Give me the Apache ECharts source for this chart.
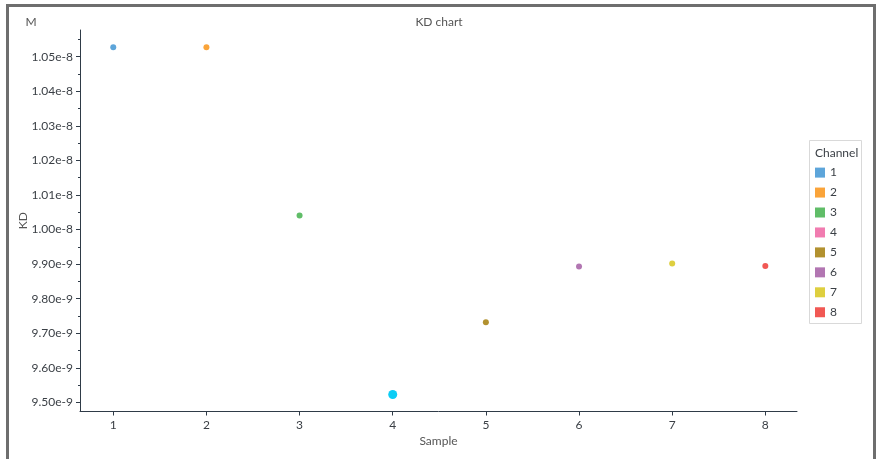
<!DOCTYPE html>
<html>
<head>
<meta charset="utf-8">
<script src="https://cdn.jsdelivr.net/npm/echarts@6/dist/echarts.min.js"></script>
<style>
  html, body { margin: 0; padding: 0; background: #fff; }
  #wrap { position: relative; width: 881px; height: 459px; overflow: hidden; }
  #chart { position: absolute; left: 0; top: 0; width: 881px; height: 459px; }
  #frame { position: absolute; left: 6px; top: 4px; width: 864px; height: 490px;
           border: 3px solid #6e6e6e; pointer-events: none; }
</style>
</head>
<body>
<div id="wrap">
  <div id="chart"></div>
  <div id="frame"></div>
</div>
<script>
// ---- data ----
const samples = [1, 2, 3, 4, 5, 6, 7, 8];
const channels = ['1', '2', '3', '4', '5', '6', '7', '8'];
const kdValues = [1.0527e-8, 1.0527e-8, 1.0041e-8, 9.523e-9, 9.732e-9, 9.893e-9, 9.902e-9, 9.895e-9];
const channelColors = ['#5DA5DA', '#FAA43A', '#60BD68', '#F17CB0', '#B2912F', '#B276B2', '#DECF3F', '#F15854'];
const yTickValues = [9.5e-9, 9.6e-9, 9.7e-9, 9.8e-9, 9.9e-9, 1.0e-8, 1.01e-8, 1.02e-8, 1.03e-8, 1.04e-8, 1.05e-8];
const yMinorTickValues = [9.55e-9, 9.65e-9, 9.75e-9, 9.85e-9, 9.95e-9, 1.005e-8, 1.015e-8, 1.025e-8, 1.035e-8, 1.045e-8, 1.055e-8];
const highlightedSample = 4;

const chart = echarts.init(document.getElementById('chart'), null, { renderer: 'canvas' });
const axisColor = '#2f3b48';
const textColor = '#3a3f45';
const font = 'Lato, "Open Sans", sans-serif';

const series = samples.map((s, i) => ({
  name: channels[i],
  type: 'scatter',
  xAxisIndex: 0,
  yAxisIndex: 0,
  symbolSize: 6,
  itemStyle: { color: channelColors[i], opacity: 1 },
  data: [s === highlightedSample
    ? { value: [s, kdValues[i]], symbolSize: 9, itemStyle: { color: '#0ccdf5', opacity: 1 } }
    : [s, kdValues[i]]]
}));

chart.setOption({
  animation: false,
  textStyle: { fontFamily: font },
  grid: { left: 80, top: 30, right: 84, bottom: 47.5, containLabel: false },
  xAxis: {
    type: 'value',
    min: 0.643, max: 8.34,
    name: 'Sample', nameLocation: 'middle', nameGap: 24, nameMoveOverlap: false,
    nameTextStyle: { color: '#555', fontSize: 12, fontFamily: font },
    axisLine: { show: true, lineStyle: { color: axisColor, width: 1 } },
    axisTick: { show: true, length: 4, customValues: samples, lineStyle: { color: axisColor } },
    axisLabel: { customValues: samples, color: textColor, fontSize: 12, margin: 8, fontFamily: font },
    splitLine: { show: false }
  },
  yAxis: [{
    type: 'value',
    min: 9.474e-9, max: 1.0577e-8,
    name: 'KD', nameLocation: 'middle', nameGap: 51, nameRotate: 90, nameMoveOverlap: false,
    nameTextStyle: { color: '#555', fontSize: 12, fontFamily: font },
    axisLine: { show: true, lineStyle: { color: axisColor, width: 1 } },
    axisTick: { show: true, length: 4, customValues: yTickValues, lineStyle: { color: axisColor } },
    axisLabel: { customValues: yTickValues, color: textColor, fontSize: 12, margin: 7, fontFamily: font,
      formatter: v => Number(v).toExponential(2) },
    splitLine: { show: false }
  }, {
    type: 'value',
    position: 'left',
    min: 9.474e-9, max: 1.0577e-8,
    axisLine: { show: false },
    axisTick: { show: true, length: 2, customValues: yMinorTickValues, lineStyle: { color: axisColor } },
    axisLabel: { show: false },
    splitLine: { show: false }
  }],
  legend: {
    orient: 'vertical',
    left: 815, top: 166.6, padding: 0,
    itemWidth: 10, itemHeight: 10, itemGap: 7.95,
    icon: 'rect',
    data: channels,
    textStyle: { color: textColor, fontSize: 12, fontFamily: font }
  },
  graphic: [
    { type: 'rect', z: -1, shape: { x: 809.5, y: 140.5, width: 52, height: 183 },
      style: { fill: '#fff', stroke: '#d9d9d9', lineWidth: 1 } },
    { type: 'text', x: 815, y: 153, style: { text: 'Channel', fill: textColor, font: '12px ' + font, textVerticalAlign: 'middle' } },
    { type: 'text', x: 439, y: 22, style: { text: 'KD chart', fill: '#555', font: '12px ' + font, textAlign: 'center', textVerticalAlign: 'middle' } },
    { type: 'text', x: 31, y: 22.5, style: { text: 'M', fill: '#555', font: '12px ' + font, textAlign: 'center', textVerticalAlign: 'middle' } }
  ],
  series: series
});
</script>
</body>
</html>
